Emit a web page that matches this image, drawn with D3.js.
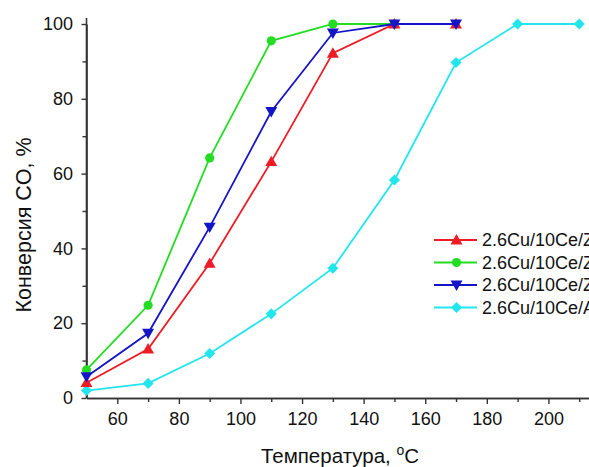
<!DOCTYPE html>
<html><head><meta charset="utf-8">
<script src="https://cdn.jsdelivr.net/npm/d3@7"></script>
<style>html,body{margin:0;padding:0;background:#fff;overflow:hidden}svg{display:block}</style>
</head><body>
<script>
const temps = [50, 70, 90, 110, 130, 150, 170, 190, 210];
const seriesNames = ["2.6Cu/10Ce/ZrO2", "2.6Cu/10Ce/ZrO2-Al2O3", "2.6Cu/10Ce/ZrO2-SiO2", "2.6Cu/10Ce/Al2O3"];
const redVals   = [4.1, 13.1, 36.0, 63.2, 92.2, 100, 100];
const greenVals = [7.5, 24.8, 64.2, 95.5, 100, 100];
const blueVals  = [5.7, 17.3, 45.7, 76.6, 97.6, 100, 100];
const cyanVals  = [2.0, 3.9, 11.9, 22.5, 34.7, 58.3, 89.7, 100, 100];
const xTicks = [60, 80, 100, 120, 140, 160, 180, 200];
const xMinorTicks = [70, 90, 110, 130, 150, 170, 190, 210];
const yTicks = [0, 20, 40, 60, 80, 100];
const yMinorTicks = [10, 30, 50, 70, 90];

const W = 589, H = 467;
const FONT = "'Liberation Sans', Arial, sans-serif";
const svg = d3.select("body").append("svg").attr("width", W).attr("height", H)
  .style("font-family", FONT);

const x = d3.scaleLinear().domain([50, 220]).range([86.5, 610]);
const y = d3.scaleLinear().domain([0, 100]).range([398, 24]);
const axisCol = "#333";

// axes
const xAxis = svg.append("g").attr("transform", `translate(0,${y(0)})`)
  .call(d3.axisBottom(x).tickValues(xTicks).tickSize(6).tickPadding(8).tickSizeOuter(0));
const xMinor = svg.append("g").attr("transform", `translate(0,${y(0)})`)
  .call(d3.axisBottom(x).tickValues(xMinorTicks).tickSize(4).tickFormat("").tickSizeOuter(0));
const yAxis = svg.append("g").attr("transform", `translate(${x(50)},0)`)
  .call(d3.axisLeft(y).tickValues(yTicks).tickSize(5).tickPadding(8.5).tickSizeOuter(0));
const yMinor = svg.append("g").attr("transform", `translate(${x(50)},0)`)
  .call(d3.axisLeft(y).tickValues(yMinorTicks).tickSize(4).tickFormat("").tickSizeOuter(0));
[xAxis, xMinor, yAxis, yMinor].forEach(g => {
  g.selectAll("path.domain").attr("stroke", axisCol).attr("stroke-width", 1.6);
  g.selectAll("line").attr("stroke", axisCol).attr("stroke-width", 1.4);
  g.selectAll("text").attr("fill", "#111").style("font-size", "18px").style("font-family", FONT);
});
yAxis.select("path.domain").attr("d", `M0,${y(0)}V18`);

// axis titles
const xt = svg.append("text").attr("x", 340).attr("y", 463).attr("text-anchor", "middle")
  .style("font-size", "20.5px").attr("fill", "#111");
xt.append("tspan").text("Температура, ");
xt.append("tspan").attr("dy", -8).style("font-size", "14px").text("o");
xt.append("tspan").attr("dy", 8).text("C");
svg.append("text").attr("transform", "translate(31,225) rotate(-90)").attr("text-anchor", "middle")
  .style("font-size", "21.5px").attr("fill", "#111").text("Конверсия CO, %");

const series = [
  {name: seriesNames[0], vals: redVals, color: "#ee1c24", sym: "tri"},
  {name: seriesNames[1], vals: greenVals, color: "#22dd22", sym: "circ"},
  {name: seriesNames[2], vals: blueVals, color: "#1515c8", sym: "dtri"},
  {name: seriesNames[3], vals: cyanVals, color: "#22e5ee", sym: "diam"}
];
const symGen = {
  tri: d3.symbol(d3.symbolTriangle, 62),
  circ: d3.symbol(d3.symbolCircle, 66),
  dtri: d3.symbol(d3.symbolTriangle, 62),
  diam: d3.symbol(d3.symbolSquare, 62)
};
function drawSym(g, s, cx, cy) {
  const p = g.append("path").attr("d", symGen[s.sym]()).attr("fill", s.color);
  let t = `translate(${cx},${cy})`;
  if (s.sym === "dtri") t += " rotate(180) translate(0,1)";
  if (s.sym === "tri") t += " translate(0,1)";
  if (s.sym === "diam") t += " rotate(45)";
  p.attr("transform", t);
}
const line = d3.line().x((d, i) => x(temps[i])).y(d => y(d));
// draw order: cyan, green, red, blue
[series[3], series[1], series[0], series[2]].forEach(s => {
  const g = svg.append("g");
  g.append("path").attr("d", line(s.vals)).attr("fill", "none").attr("stroke", s.color).attr("stroke-width", 1.8);
  s.vals.forEach((v, i) => drawSym(g, s, x(temps[i]), y(v)));
});

// legend
series.forEach((s, i) => {
  const ly = 240 + i * 22.5;
  const g = svg.append("g");
  g.append("line").attr("x1", 434).attr("x2", 477).attr("y1", ly).attr("y2", ly).attr("stroke", s.color).attr("stroke-width", 1.8);
  drawSym(g, s, 456.5, ly);
  g.append("text").attr("x", 482).attr("y", ly + 6).style("font-size", "18px").attr("fill", "#111").text(s.name);
});
</script>
</body></html>
